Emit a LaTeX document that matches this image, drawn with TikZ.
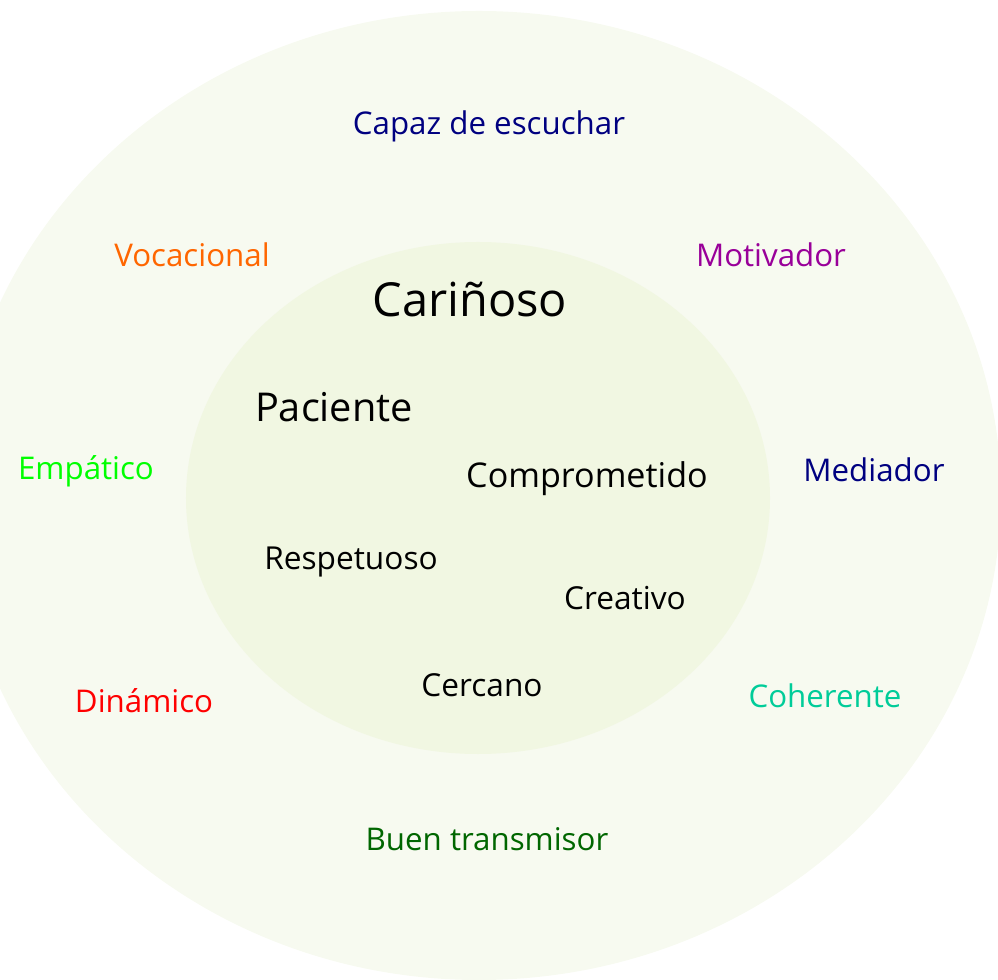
\documentclass[tikz,border=0pt]{standalone}
\usepackage{fontspec}
\setmainfont{Open Sans}
\usetikzlibrary{positioning}

\definecolor{outerfill}{HTML}{F7FAF0}
\definecolor{innerfill}{HTML}{F1F7E2}
\definecolor{navyblue}{HTML}{000080}
\definecolor{vocorange}{HTML}{FF6600}
\definecolor{motpurple}{HTML}{990099}
\definecolor{empgreen}{HTML}{00FF00}
\definecolor{dinred}{HTML}{FF0000}
\definecolor{cohteal}{HTML}{00CC99}
\definecolor{buengreen}{HTML}{006600}

\begin{document}
\begin{tikzpicture}[x=0.2mm,y=-0.2mm,inner sep=0pt,
  every node/.style={anchor=base},
  outerlbl/.style={font=\fontsize{17.8}{20}\selectfont},
  innerlbl/.style={font=\fontsize{18}{20}\selectfont,text=black}]

  \useasboundingbox (0,0) rectangle (998,980);
  \clip (0,0) rectangle (998,980);

  % rings
  \fill[outerfill] (479,495.5) ellipse [x radius=104.4mm, y radius=96.9mm];
  \fill[innerfill] (478,498) ellipse [x radius=58.4mm, y radius=51.2mm];

  % outer ring
  \node[outerlbl,text=navyblue]  (capaz) at (489,135) {Capaz de escuchar};
  \node[outerlbl,text=vocorange] (voc)   at (192,267) {Vocacional};
  \node[outerlbl,text=motpurple] (mot)   at (771,267) {Motivador};
  \node[outerlbl,text=empgreen]  (emp)   at (86,480)  {Empático};
  \node[outerlbl,text=navyblue]  (med)   at (874,482) {Mediador};
  \node[outerlbl,text=dinred]    (din)   at (144,712) {Dinámico};
  \node[outerlbl,text=cohteal]   (coh)   at (825,707) {Coherente};
  \node[outerlbl,text=buengreen] (buen)  at (487,850) {Buen transmisor};

  % inner ring
  \node[font=\fontsize{26.7}{30}\selectfont] (car) at (470,317) {Cariñoso};
  \node[font=\fontsize{22.6}{26}\selectfont] (pac) at (334,422) {Paciente};
  \node[font=\fontsize{19.4}{22}\selectfont] (com) at (587,487) {Comprometido};
  \node[innerlbl] (res) at (351,569) {Respetuoso};
  \node[innerlbl] (cre) at (625,609) {Creativo};
  \node[innerlbl] (cer) at (482,696) {Cercano};

\end{tikzpicture}
\end{document}
